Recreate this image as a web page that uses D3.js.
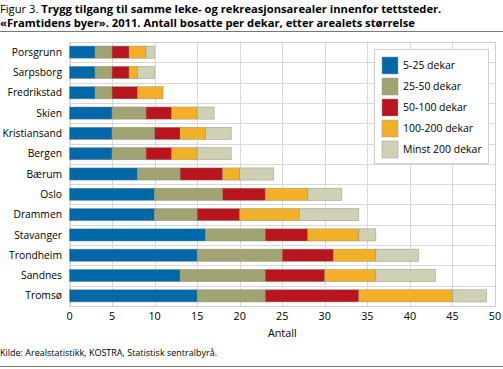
<!DOCTYPE html>
<html><head><meta charset="utf-8">
<script src="https://cdn.jsdelivr.net/npm/d3@7"></script>
<style>body{margin:0;background:#fff}svg{display:block}text{font-family:"Open Sans",sans-serif}</style>
</head><body>
<svg id="c" width="503" height="369"></svg>
<script>
const cities = ["Porsgrunn","Sarpsborg","Fredrikstad","Skien","Kristiansand","Bergen","Bærum","Oslo","Drammen","Stavanger","Trondheim","Sandnes","Tromsø"];
const seriesNames = ["5-25 dekar","25-50 dekar","50-100 dekar","100-200 dekar","Minst 200 dekar"];
const s5_25    = [3,3,3,5,5,5,8,10,10,16,15,13,15];
const s25_50   = [2,2,2,4,5,4,5,8,5,7,10,10,8];
const s50_100  = [2,2,3,3,3,3,5,5,5,5,6,7,11];
const s100_200 = [2,1,3,3,3,3,2,5,7,6,5,6,11];
const sMin200  = [1,2,0,2,3,4,4,4,7,2,5,7,4];
const colors = ["#0068a9","#a2a373","#b9151f","#f1b028","#d0d0b5"];
const xTicks = [0,5,10,15,20,25,30,35,40,45,50];

const svg = d3.select("#c");
const m = {l:69.5, r:495, t:42, b:306};
const x = d3.scaleLinear().domain([0,50]).range([m.l,m.r]);
const y = d3.scaleBand().domain(cities).range([m.t,m.b]).paddingInner(0.4).paddingOuter(0.2);

// title
const t = svg.append("text").attr("x",0).attr("y",13).attr("font-size",11.2).attr("fill","#000");
t.append("tspan").text("Figur 3. ");
t.append("tspan").attr("font-weight","bold").text("Trygg tilgang til samme leke- og rekreasjonsarealer innenfor tettsteder.");
svg.append("text").attr("x",0).attr("y",27).attr("font-size",11.2).attr("font-weight","bold")
  .text("«Framtidens byer». 2011. Antall bosatte per dekar, etter arealets størrelse");
svg.append("line").attr("x1",0).attr("x2",503).attr("y1",31.5).attr("y2",31.5).attr("stroke","#777").attr("stroke-width",1);

// grid
const g = svg.append("g");
g.selectAll("line.v").data(xTicks).join("line")
  .attr("x1",d=>Math.round(x(d))+0.5).attr("x2",d=>Math.round(x(d))+0.5)
  .attr("y1",m.t).attr("y2",m.b).attr("stroke","#d9d9d9");
const bandEdges = cities.map(c=>y(c)-y.step()*y.paddingInner()/2).concat([m.b]);
g.selectAll("line.h").data(bandEdges).join("line")
  .attr("x1",m.l).attr("x2",m.r).attr("y1",d=>Math.round(d)+0.5).attr("y2",d=>Math.round(d)+0.5)
  .attr("stroke","#d9d9d9");
svg.append("rect").attr("x",m.l+0.5).attr("y",m.t+0.5).attr("width",m.r-m.l).attr("height",m.b-m.t)
  .attr("fill","none").attr("stroke","#d0d0d0");

// data
const rows = cities.map((c,i)=>({city:c, v:[s5_25[i],s25_50[i],s50_100[i],s100_200[i],sMin200[i]]}));
const keys = [0,1,2,3,4];
const stack = d3.stack().keys(keys).value((d,k)=>d.v[k])(rows);
svg.append("g").selectAll("g").data(stack).join("g").attr("fill",(d,i)=>colors[i])
  .selectAll("rect").data(d=>d.filter(p=>p[1]>p[0])).join("rect")
  .attr("x",d=>x(d[0])).attr("width",d=>x(d[1])-x(d[0]))
  .attr("y",d=>y(d.data.city)).attr("height",y.bandwidth())
  .attr("stroke","#8a8a7a").attr("stroke-width",0.6).attr("stroke-opacity",0.7);

// y labels
svg.append("g").selectAll("text").data(cities).join("text")
  .attr("x",62).attr("y",d=>y(d)+y.bandwidth()/2).attr("dy","0.35em")
  .attr("text-anchor","end").attr("font-size",10.3).text(d=>d);

// x axis labels
svg.append("g").selectAll("text").data(xTicks).join("text")
  .attr("x",d=>x(d)).attr("y",320).attr("text-anchor","middle").attr("font-size",10.8).text(d=>d);
svg.append("text").attr("x",x(25)).attr("y",337).attr("text-anchor","middle").attr("font-size",10.8).text("Antall");

// legend
const lg = svg.append("g");
lg.append("rect").attr("x",374.5).attr("y",49.5).attr("width",114).attr("height",114).attr("fill","#fff").attr("stroke","#d0d0d0");
const li = lg.selectAll("g").data(seriesNames).join("g").attr("transform",(d,i)=>`translate(382,${57+i*21})`);
li.append("rect").attr("width",16).attr("height",17).attr("fill",(d,i)=>colors[i]).attr("stroke","#999").attr("stroke-width",0.5);
li.append("text").attr("x",21).attr("y",8.5).attr("dy","0.35em").attr("font-size",10.5).text(d=>d);

// source
svg.append("text").attr("x",0).attr("y",356).attr("font-size",9).text("Kilde: Arealstatistikk, KOSTRA, Statistisk sentralbyrå.");
svg.append("line").attr("x1",0).attr("x2",503).attr("y1",366.5).attr("y2",366.5).attr("stroke","#777");
</script>
</body></html>
